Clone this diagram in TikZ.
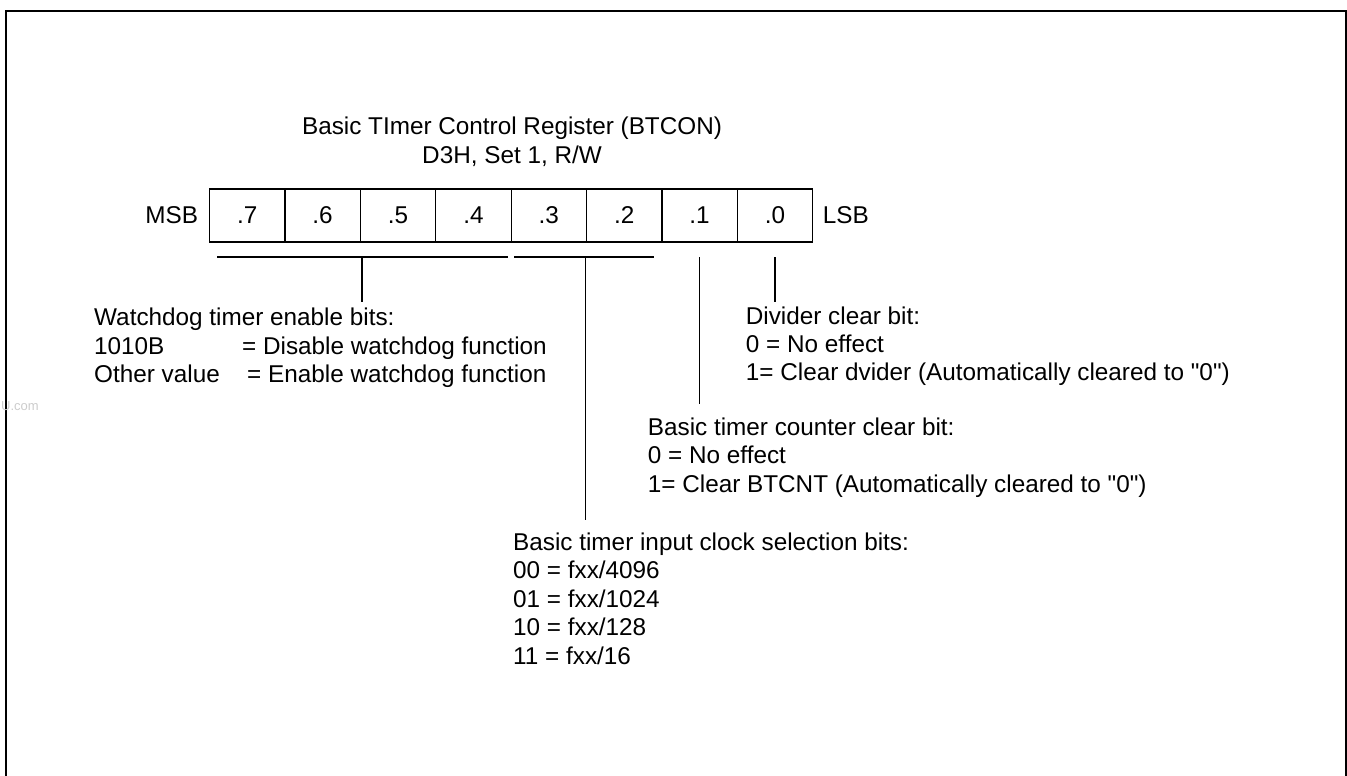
\documentclass[tikz,border=0pt]{standalone}
\usepackage{fontspec}
\newfontfamily\arialface{Liberation Sans}
\newcommand{\txtsize}{\arialface\fontsize{24.3pt}{28.7pt}\selectfont}
\tikzset{
  cell/.style={draw, line width=1.2pt, minimum width=75.4pt, minimum height=53pt, inner sep=0pt, text height=16pt, text depth=0.4pt, font=\txtsize},
  lbl/.style={inner sep=0pt, font=\txtsize},
  conn/.style={line width=1.2pt},
  frame/.style={line width=2pt}
}
\begin{document}
\begin{tikzpicture}[x=1pt,y=-1pt]
\useasboundingbox (0,0) rectangle (1347,776);
\clip (0,0) rectangle (1347,776);
% frame
\coordinate (fBL) at (6,790);
\coordinate (fTL) at (6,11);
\coordinate (fTR) at (1346,11);
\coordinate (fBR) at (1346,790);
\draw[frame] (fBL) -- (fTL) -- (fTR) -- (fBR);
% watermark
\node[anchor=base east, inner sep=0pt, text=black!20, font=\arialface\fontsize{13pt}{15pt}\selectfont] (wm) at (39,410) {U.com};
% title
\node[lbl, anchor=base] (title) at (512,134.3) {\vtop{\baselineskip=29pt\hbox{\makebox[0pt]{Basic TImer Control Register (BTCON)}}\hbox{\makebox[0pt]{D3H, Set 1, R/W}}}};
% register cells
\node[cell] (b7) at (247.2,215.5) {.7};
\node[cell] (b6) at (322.6,215.5) {.6};
\node[cell] (b5) at (398.0,215.5) {.5};
\node[cell] (b4) at (473.4,215.5) {.4};
\node[cell] (b3) at (548.8,215.5) {.3};
\node[cell] (b2) at (624.2,215.5) {.2};
\node[cell] (b1) at (699.6,215.5) {.1};
\node[cell] (b0) at (775.0,215.5) {.0};
\node[lbl, anchor=base east] (msb) at (198.3,223.3) {MSB};
\node[lbl, anchor=base west] (lsb) at (822.7,223.3) {LSB};
% descriptions
\node[lbl, anchor=base west] (wd) at (94,325.5) {\vtop{\baselineskip=28.7pt
  \hbox{Watchdog timer enable bits:}
  \hbox{\makebox[148pt][l]{1010B}= Disable watchdog function}
  \hbox{\makebox[153pt][l]{Other value}= Enable watchdog function}}};
\node[lbl, anchor=base west] (dv) at (745.7,324) {\vtop{\baselineskip=28.3pt
  \hbox{Divider clear bit:}
  \hbox{0 = No effect}
  \hbox{1= Clear dvider (Automatically cleared to "0")}}};
\node[lbl, anchor=base west] (cnt) at (647.7,435) {\vtop{\baselineskip=28.7pt
  \hbox{Basic timer counter clear bit:}
  \hbox{0 = No effect}
  \hbox{1= Clear BTCNT (Automatically cleared to "0")}}};
\node[lbl, anchor=base west] (clk) at (513,550) {\vtop{\baselineskip=28.6pt
  \hbox{Basic timer input clock selection bits:}
  \hbox{00 = fxx/4096}
  \hbox{01 = fxx/1024}
  \hbox{10 = fxx/128}
  \hbox{11 = fxx/16}}};
% brackets and leaders
\coordinate (wdL) at (217,257);
\coordinate (wdR) at (508,257);
\coordinate (wdM) at (362,257);
\coordinate (wdE) at (362,302);
\coordinate (ckL) at (514,257);
\coordinate (ckR) at (654,257);
\coordinate (ckM) at (585.5,257);
\coordinate (ckE) at (585.5,520);
\coordinate (cnS) at (699.6,257);
\coordinate (cnE) at (699.6,404);
\coordinate (dvS) at (775,257);
\coordinate (dvE) at (775,302);
\draw[conn] (wdL) -- (wdR);
\draw[conn] (wdM) -- (wdE);
\draw[conn] (ckL) -- (ckR);
\draw[conn] (ckM) -- (ckE);
\draw[conn] (cnS) -- (cnE);
\draw[conn] (dvS) -- (dvE);
\end{tikzpicture}
\end{document}
